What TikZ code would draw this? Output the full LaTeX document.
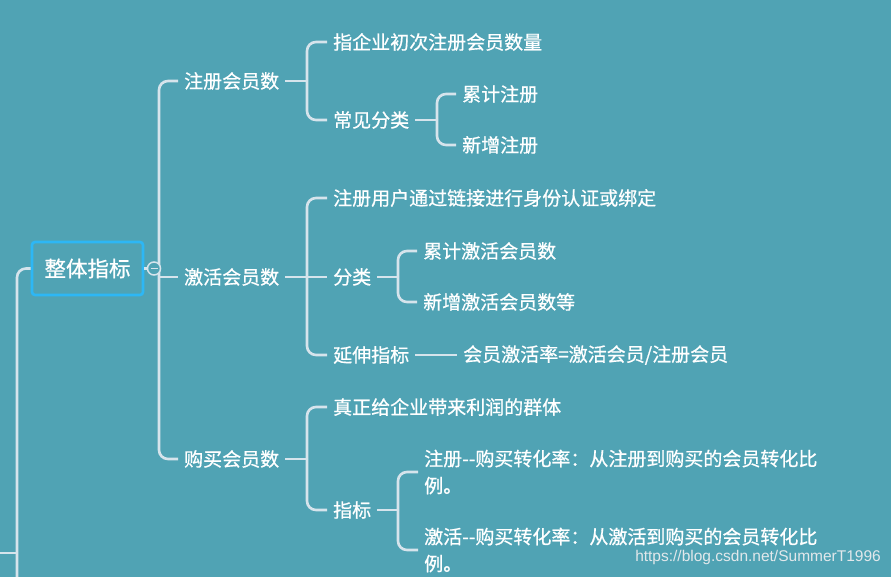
\documentclass[tikz,border=0pt]{standalone}
\usepackage{fontspec}
\usepackage{tikz}
\usetikzlibrary{positioning}
\newfontfamily\cjk{Noto Sans CJK SC}[FakeBold=0.7]
\newfontfamily\urlfont{Liberation Sans}
\definecolor{mapbg}{HTML}{50A3B4}
\definecolor{mapline}{HTML}{D6E4EC}
\definecolor{rootedge}{HTML}{2DB7F5}
\definecolor{mark}{HTML}{E2E8EB}

\begin{document}
\begin{tikzpicture}[x=1pt,y=-1pt,
  topic/.style={anchor=west,inner xsep=6pt,inner ysep=2pt,text=white,align=left,
    font=\cjk\fontsize{19}{27}\selectfont},
  link/.style={draw=mapline,line width=2.6pt,rounded corners=9pt}]
  \useasboundingbox (0,0) rectangle (891,577);
  \fill[mapbg] (0,0) rectangle (891,577);
  \clip (0,0) rectangle (891,577);

  \node[draw=rootedge,line width=2.6pt,rounded corners=3pt,minimum width=111pt,minimum height=53pt,
    text=white,font=\cjk\fontsize{21.5}{21.5}\selectfont] (root) at (87.5,268.5) {整体指标};
  \coordinate (rootin) at (17,600);
  \coordinate (sidein) at (-5,553);
  \coordinate (sidejoin) at (17,553);
  \draw[link] (root.west) -| (rootin);
  \draw[link] (sidein) -- (sidejoin);

  \node[topic] (reg) at (178,81) {注册会员数};
  \node[topic] (act) at (178,277) {激活会员数};
  \node[topic] (buy) at (178,459) {购买会员数};
  \coordinate (trunk) at (159,277);
  \draw[link] (trunk) |- (reg.west);
  \draw[link] (trunk) |- (buy.west);
  \draw[link] (trunk) -- (act.west);
  \draw[link] (root.east) -- (154,268.5);
  \node[circle,draw=mapline,fill=mapbg,line width=1.5pt,minimum size=13pt,inner sep=0pt] (fold) at (154,268.5) {};
  \draw[mapline,line width=1.3pt] (fold.center) ++(-3.5,0) -- ++(7,0);

  \node[topic] (regdef) at (327,42) {指企业初次注册会员数量};
  \node[topic] (regcls) at (327,120) {常见分类};
  \coordinate (regfork) at (307,81);
  \draw[link] (reg.east) -- (regfork);
  \draw[link] (regfork) |- (regdef.west);
  \draw[link] (regfork) |- (regcls.west);
  \node[topic] (regsum) at (456,94) {累计注册};
  \node[topic] (regnew) at (456,145) {新增注册};
  \coordinate (regclsfork) at (437,120);
  \draw[link] (regcls.east) -- (regclsfork);
  \draw[link] (regclsfork) |- (regsum.west);
  \draw[link] (regclsfork) |- (regnew.west);

  \node[topic] (actdef) at (327,198) {注册用户通过链接进行身份认证或绑定};
  \node[topic] (actcls) at (327,277) {分类};
  \node[topic] (actext) at (327,355) {延伸指标};
  \coordinate (actfork) at (307,277);
  \draw[link] (act.east) -- (actfork);
  \draw[link] (actfork) |- (actdef.west);
  \draw[link] (actfork) -- (actcls.west);
  \draw[link] (actfork) |- (actext.west);
  \node[topic] (actsum) at (417,251) {累计激活会员数};
  \node[topic] (actnew) at (417,302) {新增激活会员数等};
  \coordinate (actclsfork) at (398,277);
  \draw[link] (actcls.east) -- (actclsfork);
  \draw[link] (actclsfork) |- (actsum.west);
  \draw[link] (actclsfork) |- (actnew.west);
  \node[topic] (actrate) at (457,355) {会员激活率=激活会员/注册会员};
  \draw[link] (actext.east) -- (actrate.west);

  \node[topic] (buydef) at (327,407) {真正给企业带来利润的群体};
  \node[topic] (buyidx) at (327,510) {指标};
  \coordinate (buyfork) at (307,459);
  \draw[link] (buy.east) -- (buyfork);
  \draw[link] (buyfork) |- (buydef.west);
  \draw[link] (buyfork) |- (buyidx.west);
  \node[topic] (buyreg) at (418,472) {注册-\kern0pt-购买转化率：从注册到购买的会员转化比\\例。};
  \node[topic] (buyact) at (418,550) {激活-\kern0pt-购买转化率：从激活到购买的会员转化比\\例。};
  \coordinate (buyidxfork) at (398,510);
  \draw[link] (buyidx.east) -- (buyidxfork);
  \draw[link] (buyidxfork) |- (buyreg.west);
  \draw[link] (buyidxfork) |- (buyact.west);

  \node[anchor=east,inner sep=0pt,text=mark,font=\urlfont\fontsize{15.5}{15.5}\selectfont] (site) at (881,557) {https://blog.csdn.net/SummerT1996};
\end{tikzpicture}
\end{document}
